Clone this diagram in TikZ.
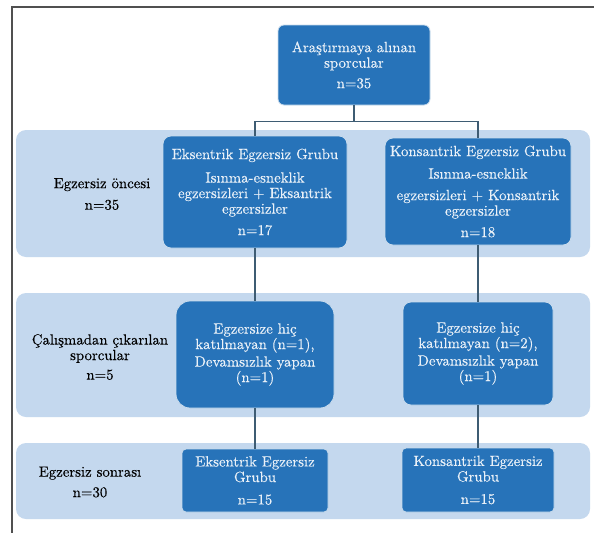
\documentclass[tikz,border=0pt]{standalone}
\usepackage{fontspec}
\newfontfamily\lmr{lmroman10-regular.otf}[FakeBold=0.25]
\definecolor{boxblue}{HTML}{2773B9}
\definecolor{bandblue}{HTML}{C4D8EE}
\definecolor{boxtext}{HTML}{EAF1F8}
\definecolor{linecol}{HTML}{3E5C73}
\definecolor{framecol}{HTML}{505050}
\begin{document}
\begin{tikzpicture}[x=1pt,y=-1pt,
  bluebox/.style={draw=boxblue!25!white, line width=0.8pt, fill=boxblue, text=boxtext,
    rounded corners=6pt, align=center, inner sep=0pt,
    font=\lmr\fontsize{14.8}{15.5}\selectfont},
  band/.style={fill=bandblue, rounded corners=10pt, inner sep=0pt},
  conn/.style={draw=linecol, line width=1.1pt},
  lbl/.style={align=center, text=black, inner sep=0pt, font=\lmr\fontsize{14.8}{15.5}\selectfont}]
\useasboundingbox (0,0) rectangle (594,533);
\fill[white] (0,0) rectangle (594,533);
% frame
\coordinate (fl) at (12,7);
\coordinate (fr) at (594,7);
\coordinate (fb) at (12,533);
\draw[framecol, line width=1.4pt] (fr) -- (fl) -- (fb);
% bands
\node[band, minimum width=574pt, minimum height=127pt] (b1) at (303,193.5) {};
\node[band, minimum width=574pt, minimum height=124pt] (b2) at (303,355) {};
\node[band, minimum width=574pt, minimum height=76pt] (b3) at (303,481) {};
% boxes
\node[bluebox, minimum width=152pt, minimum height=80pt] (top) at (354,65)
  {Araştırmaya alınan\\ sporcular\\[5pt] n=35};
\node[bluebox, rounded corners=8pt, minimum width=184pt, minimum height=112pt] (E1) at (255,192)
  {Eksentrik Egzersiz Grubu\\[8pt] Isınma-esneklik\\ egzersizleri + Eksantrik\\ egzersizler\\[6pt] n=17};
\node[bluebox, rounded corners=8pt, minimum width=186pt, minimum height=107pt] (K1) at (478,191.5)
  {Konsantrik Egzersiz Grubu\\[7pt] Isınma-esneklik\\[6pt] egzersizleri + Konsantrik\\ egzersizler\\[6pt] n=18};
\node[bluebox, rounded corners=14pt, minimum width=158pt, minimum height=107pt] (E2) at (255,354.5)
  {Egzersize hiç\\ katılmayan (n=1),\\[2pt] Devamsızlık yapan\\ (n=1)};
\node[bluebox, rounded corners=8pt, minimum width=150pt, minimum height=103pt] (K2) at (478,353.5)
  {Egzersize hiç\\ katılmayan (n=2),\\[2pt] Devamsızlık yapan\\ (n=1)};
\node[bluebox, rounded corners=4pt, minimum width=146pt, minimum height=63pt] (E3) at (255,480.5)
  {Eksentrik Egzersiz\\ Grubu\\[7pt] n=15};
\node[bluebox, rounded corners=4pt, minimum width=152pt, minimum height=64pt] (K3) at (478,480)
  {Konsantrik Egzersiz\\ Grubu\\[7pt] n=15};
% labels
\node[lbl] (L1) at (102,194) {Egzersiz öncesi\\[6pt] n=35};
\node[lbl] (L2) at (100,357) {Çalışmadan çıkarılan\\ sporcular\\[4pt] n=5};
\node[lbl] (L3) at (90,482) {Egzersiz sonrası\\[5pt] n=30};
% connectors
\draw[conn] (top.south) -- ++(0,16) coordinate (j);
\draw[conn] (j) -| (E1.north);
\draw[conn] (j) -| (K1.north);
\draw[conn] (E1.south) -- (E2.north);
\draw[conn] (E2.south) -- (E3.north);
\draw[conn] (K1.south) -- (K2.north);
\draw[conn] (K2.south) -- (K3.north);
\end{tikzpicture}
\end{document}
